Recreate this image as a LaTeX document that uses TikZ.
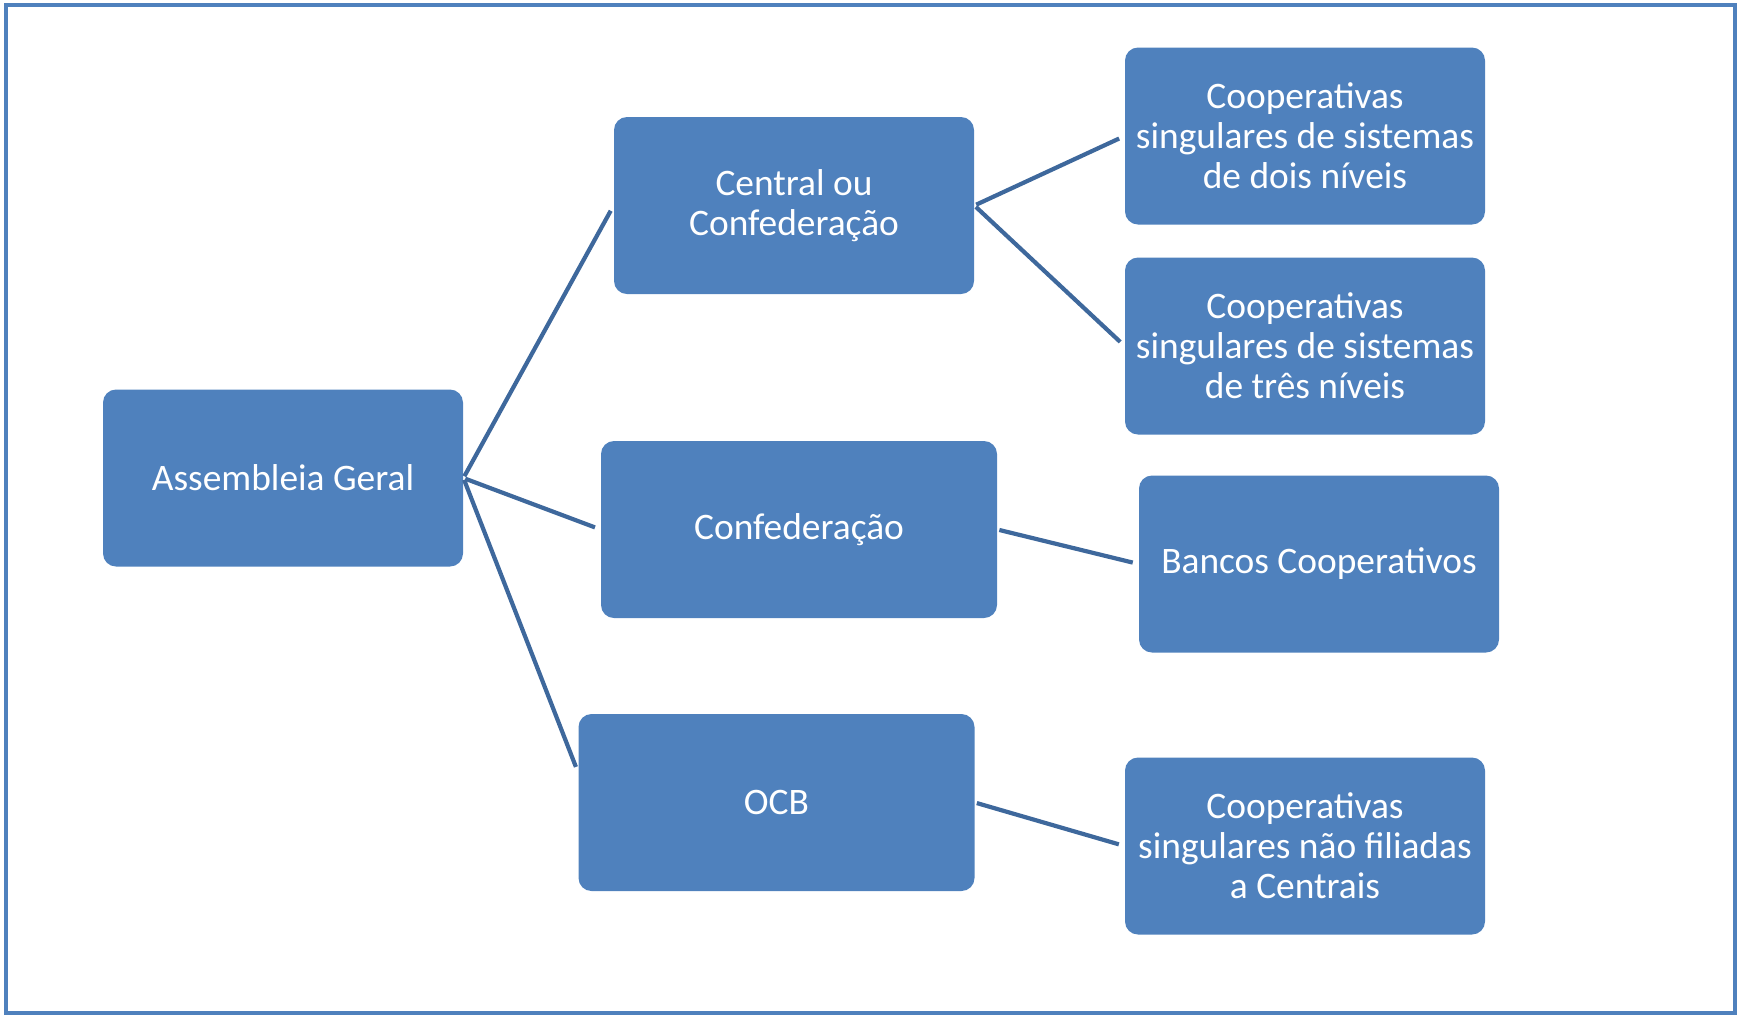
\documentclass[tikz,border=0pt]{standalone}
\usepackage{fontspec}
\setmainfont{Carlito}
\usetikzlibrary{positioning}
\definecolor{boxblue}{HTML}{4F81BD}
\definecolor{linkblue}{HTML}{3E689C}

\begin{document}
\begin{tikzpicture}[x=0.5pt, y=-0.5pt,
    box/.style={fill=boxblue, rounded corners=6.5pt, minimum width=180pt, minimum height=88.5pt,
      align=center, text=white, inner sep=2pt, font=\fontsize{18.7}{20}\selectfont},
    widebox/.style={box, minimum width=198pt},
    link/.style={draw=linkblue, line width=2.1pt, shorten >=3pt, shorten <=1pt}]
          \useasboundingbox (0, 0) rectangle (1742, 1014);
          \draw [boxblue, line width=2pt] (6, 5) rectangle (1735, 1013);
          \node [box] (ag) at (283, 478) {Assembleia Geral};
          \node [box] (cen) at (794, 205.5) {Central ou\\Confedera\c{c}\~ao};
          \node [widebox] (conf) at (799, 529.5) {Confedera\c{c}\~ao};
          \node [widebox] (ocb) at (776.5, 802.5) {OCB};
          \node [box] (dois) at (1305, 136) {Cooperativas\\singulares de sistemas\\de dois n\'iveis};
          \node [box] (tres) at (1305, 346) {Cooperativas\\singulares de sistemas\\de tr\^es n\'iveis};
          \node [box] (banco) at (1319, 564) {Bancos Cooperativos};
          \node [box] (naof) at (1305, 846) {Cooperativas\\singulares n\~ao filiadas\\a Centrais};
          \draw [link] (ag.east) -- (cen.west);
          \draw [link] (ag.east) -- (conf.west);
          \draw [link] (ag.east) -- ([yshift=15pt]ocb.west);
          \draw [link] (cen.east) -- (dois.west);
          \draw [link] (cen.east) -- (tres.west);
          \draw [link] (conf.east) -- (banco.west);
          \draw [link] (ocb.east) -- (naof.west);
  \end{tikzpicture}
\end{document}
